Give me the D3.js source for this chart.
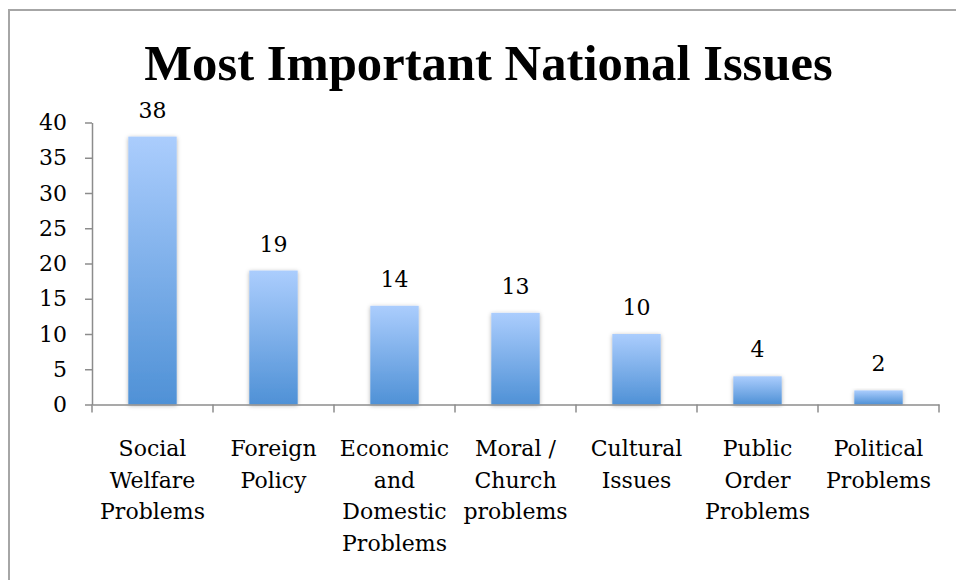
<!DOCTYPE html>
<html>
<head>
<meta charset="utf-8">
<script src="https://cdn.jsdelivr.net/npm/d3@7"></script>
<style>
  html, body { margin: 0; padding: 0; background: #fff; }
  svg { display: block; }
</style>
</head>
<body>
<div id="chart"></div>
<script>
// Survey responses: most important national issues
const categories = [
  "Social Welfare Problems",
  "Foreign Policy",
  "Economic and Domestic Problems",
  "Moral / Church problems",
  "Cultural Issues",
  "Public Order Problems",
  "Political Problems"
];
const values = [38, 19, 14, 13, 10, 4, 2];
const yTicks = [0, 5, 10, 15, 20, 25, 30, 35, 40];
const title = "Most Important National Issues";

const W = 956, H = 580;
const plot = { left: 92, right: 939, top: 122.5, bottom: 404.5 };
const labelFont = "'DejaVu Serif', serif";

const svg = d3.select("#chart").append("svg")
  .attr("width", W).attr("height", H);

const defs = svg.append("defs");
const grad = defs.append("linearGradient")
  .attr("id", "barFill").attr("x1", 0).attr("y1", 0).attr("x2", 0).attr("y2", 1);
grad.append("stop").attr("offset", "0%").attr("stop-color", "#abcdfd");
grad.append("stop").attr("offset", "100%").attr("stop-color", "#4f91d6");

const shadow = defs.append("filter").attr("id", "barShadow")
  .attr("x", "-30%").attr("y", "-10%").attr("width", "160%").attr("height", "120%");
shadow.append("feDropShadow")
  .attr("dx", 0).attr("dy", 1).attr("stdDeviation", 2)
  .attr("flood-color", "#000").attr("flood-opacity", 0.3);

// chart frame
svg.append("rect")
  .attr("x", 9).attr("y", 10)
  .attr("width", W + 20).attr("height", H + 20)
  .attr("fill", "none").attr("stroke", "#a6a6a6").attr("stroke-width", 2);

// title
svg.append("text")
  .attr("x", 488.5).attr("y", 80)
  .attr("text-anchor", "middle")
  .attr("font-family", "'Liberation Serif', serif")
  .attr("font-weight", "bold")
  .attr("font-size", 50.7)
  .attr("fill", "#000")
  .text(title);

const x = d3.scaleBand().domain(categories)
  .range([plot.left, plot.right]).paddingInner(0).paddingOuter(0);
const y = d3.scaleLinear().domain([0, 40]).range([plot.bottom, plot.top]);
const barW = x.bandwidth() * 0.4;

// bars
svg.append("g").selectAll("rect")
  .data(categories)
  .join("rect")
  .attr("x", (d) => x(d) + (x.bandwidth() - barW) / 2)
  .attr("y", (d, i) => y(values[i]))
  .attr("width", barW)
  .attr("height", (d, i) => y(0) - y(values[i]))
  .attr("fill", "url(#barFill)")
  .attr("filter", "url(#barShadow)");

// value labels
svg.append("g").selectAll("text")
  .data(categories)
  .join("text")
  .attr("x", (d) => x(d) + x.bandwidth() / 2)
  .attr("y", (d, i) => y(values[i]) - 19)
  .attr("text-anchor", "middle")
  .attr("font-family", labelFont)
  .attr("font-size", 22)
  .attr("fill", "#000")
  .text((d, i) => values[i]);

// y axis
const yAxis = svg.append("g")
  .attr("transform", `translate(${plot.left},0)`)
  .call(d3.axisLeft(y).tickValues(yTicks).tickSize(7).tickPadding(18).tickSizeOuter(0));
yAxis.select(".domain").attr("stroke", "#8c8c8c").attr("stroke-width", 1.5);
yAxis.selectAll(".tick line").attr("stroke", "#8c8c8c").attr("stroke-width", 1.5);
yAxis.selectAll(".tick text")
  .attr("font-family", labelFont).attr("font-size", 22).attr("fill", "#000");

// x axis baseline
const xAxis = svg.append("g")
  .attr("transform", `translate(0,${plot.bottom})`)
  .call(d3.axisBottom(x).tickSize(0).tickFormat("").tickSizeOuter(0));
xAxis.select(".domain").attr("stroke", "#8c8c8c").attr("stroke-width", 1.5);
xAxis.selectAll(".tick").remove();

// category boundary ticks
const bounds = categories.map((d) => x(d)).concat([x(categories[categories.length - 1]) + x.bandwidth()]);
xAxis.selectAll("line.bound")
  .data(bounds)
  .join("line")
  .attr("class", "bound")
  .attr("x1", (d) => d).attr("x2", (d) => d)
  .attr("y1", 0).attr("y2", 8)
  .attr("stroke", "#8c8c8c").attr("stroke-width", 1.5);

// category labels, wrapped to the band width
const catG = svg.append("g");
const lineH = 31.5;
categories.forEach((c) => {
  const t = catG.append("text")
    .attr("x", x(c) + x.bandwidth() / 2)
    .attr("y", 456)
    .attr("text-anchor", "middle")
    .attr("font-family", labelFont)
    .attr("font-size", 22)
    .attr("fill", "#000");
  const words = c.split(" ");
  let lines = [];
  let cur = [];
  const probe = t.append("tspan");
  words.forEach((w) => {
    const test = cur.concat([w]).join(" ");
    probe.text(test);
    if (probe.node().getComputedTextLength() > x.bandwidth() - 4 && cur.length) {
      lines.push(cur.join(" "));
      cur = [w];
    } else {
      cur.push(w);
    }
  });
  lines.push(cur.join(" "));
  probe.remove();
  lines.forEach((ln, i) => {
    t.append("tspan")
      .attr("x", x(c) + x.bandwidth() / 2)
      .attr("y", 456 + i * lineH)
      .text(ln);
  });
});
</script>
</body>
</html>
